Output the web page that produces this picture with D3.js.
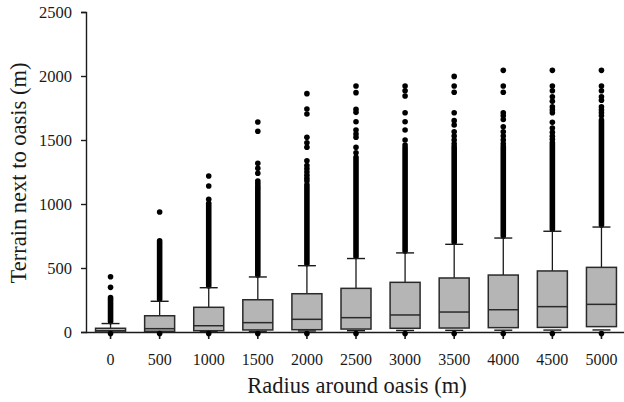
<!doctype html>
<meta charset="utf-8">
<title>Terrain boxplot</title>
<script src="https://cdn.jsdelivr.net/npm/d3@7/dist/d3.min.js"></script>
<style>
  body { margin: 0; background: #fff; }
</style>

<div id="chart"></div>

<script>
  // radius categories (m)
  const radius = ['0', '500', '1000', '1500', '2000', '2500', '3000', '3500', '4000', '4500', '5000']

  // box statistics (m)
  const lowWhisker = [0, 2, 4, 6, 8, 10, 12, 13, 14, 15, 16]
  const q1 = [0, 5, 10, 16, 18, 23, 29, 31, 34, 36, 42]
  const median = [10, 26, 49, 73, 99, 112, 133, 156, 174, 198, 216]
  const q3 = [29, 127, 193, 252, 299, 341, 388, 422, 445, 477, 505]
  const highWhisker = [66, 240, 346, 430, 518, 574, 618, 685, 734, 787, 820]

  // the outliers above the whisker form a solid column up to this value
  const denseTop = [255, 713, 1005, 1109, 1150, 1365, 1440, 1448, 1448, 1480, 1656]

  // separate outliers above the solid column
  const sparse = [
    [432, 349, 270],
    [937],
    [1219, 1141, 1037],
    [1641, 1568, 1318, 1279, 1240, 1180, 1160, 1140, 1125],
    [1862, 1742, 1703, 1521, 1479, 1443, 1338, 1300, 1275, 1250, 1225, 1200, 1180],
    [1922, 1870, 1740, 1716, 1643, 1578, 1547, 1521, 1443, 1400],
    [1922, 1885, 1844, 1713, 1643, 1578, 1500, 1461],
    [1997, 1922, 1873, 1713, 1651, 1617, 1565, 1531, 1500, 1470],
    [2044, 1922, 1873, 1713, 1690, 1660, 1604, 1565, 1531, 1500, 1470],
    [2044, 1922, 1885, 1838, 1802, 1760, 1735, 1713, 1638, 1594, 1560, 1530, 1505],
    [2044, 1922, 1885, 1838, 1810, 1760, 1735, 1713, 1690]
  ]

  // low outliers just under zero
  const lowOut = [-12, -12, -12, -12, -12, -12, -12, -12, -12, -12, -12]

  const yTicks = [0, 500, 1000, 1500, 2000, 2500]

  const W = 624, H = 402
  const plotLeft = 86, plotRight = 626, plotTop = 12, plotBottom = 332
  const serif = "'Liberation Serif', 'Times New Roman', 'DejaVu Serif', serif"
  const ink = '#1a1a1a'

  const svg = d3.select('#chart')
    .append('svg')
    .attr('width', W)
    .attr('height', H)
    .attr('font-family', serif)

  const x = d3.scaleBand().domain(radius).range([plotLeft, plotRight])
  const y = d3.scaleLinear().domain([0, 2500]).range([plotBottom, plotTop])

  const boxW = 30, capW = 18

  const rows = radius.map((r, i) => ({
    r, lo: lowWhisker[i], q1: q1[i], med: median[i], q3: q3[i], hi: highWhisker[i],
    dense: denseTop[i], pts: sparse[i], low: lowOut[i]
  }))
  const cx = d => x(d.r) + x.bandwidth() / 2

  // axes
  const yAxis = svg.append('g')
    .attr('transform', `translate(${plotLeft},0)`)
    .call(d3.axisLeft(y).tickValues(yTicks).tickFormat(d3.format('d')).tickSize(5).tickPadding(9))
    .attr('font-family', serif)
    .attr('font-size', 16.5)
  yAxis.selectAll('path, line').attr('stroke', ink).attr('stroke-width', 1.4)
  yAxis.selectAll('text').attr('fill', ink)

  const xAxis = svg.append('g')
    .attr('transform', `translate(0,${plotBottom})`)
    .call(d3.axisBottom(x).tickSize(7).tickSizeOuter(0).tickPadding(15))
    .attr('font-family', serif)
    .attr('font-size', 16)
  xAxis.select('.domain').attr('d', `M${plotLeft},0.5H${W}`)
  xAxis.selectAll('path, line').attr('stroke', ink).attr('stroke-width', 1.6)
  xAxis.selectAll('text').attr('fill', ink)

  const g = svg.append('g')
  const box = g.selectAll('g.box').data(rows).enter().append('g').attr('class', 'box')

  // upper whisker and the solid column of outliers
  box.append('line')
    .attr('x1', cx).attr('x2', cx)
    .attr('y1', d => y(d.q3)).attr('y2', d => y(d.hi))
    .attr('stroke', ink).attr('stroke-width', 1.3)
  box.append('line')
    .attr('x1', cx).attr('x2', cx)
    .attr('y1', d => y(d.hi) - 2).attr('y2', d => y(d.dense))
    .attr('stroke', '#000').attr('stroke-width', 5.6).attr('stroke-linecap', 'round')
  box.selectAll('circle.out')
    .data(d => d.pts.map(v => ({ d, v })))
    .enter().append('circle')
    .attr('class', 'out')
    .attr('cx', p => cx(p.d)).attr('cy', p => y(p.v)).attr('r', 2.8)
    .attr('fill', '#000')

  // caps
  box.append('line')
    .attr('x1', d => cx(d) - capW / 2).attr('x2', d => cx(d) + capW / 2)
    .attr('y1', d => y(d.hi)).attr('y2', d => y(d.hi))
    .attr('stroke', ink).attr('stroke-width', 1.4)
  box.append('line')
    .attr('x1', d => cx(d) - capW / 2).attr('x2', d => cx(d) + capW / 2)
    .attr('y1', d => y(d.lo)).attr('y2', d => y(d.lo))
    .attr('stroke', ink).attr('stroke-width', 1.4)

  // box and median
  box.append('rect')
    .attr('x', d => cx(d) - boxW / 2).attr('width', boxW)
    .attr('y', d => y(d.q3)).attr('height', d => Math.max(1.5, y(d.q1) - y(d.q3)))
    .attr('fill', '#b5b5b5').attr('stroke', '#2a2a2a').attr('stroke-width', 1.5)
  box.append('line')
    .attr('x1', d => cx(d) - boxW / 2).attr('x2', d => cx(d) + boxW / 2)
    .attr('y1', d => y(d.med)).attr('y2', d => y(d.med))
    .attr('stroke', '#2a2a2a').attr('stroke-width', 1.5)

  // low outliers sitting on the axis
  box.append('circle')
    .attr('cx', cx).attr('cy', d => y(d.low)).attr('r', 2.8)
    .attr('fill', '#000')

  // titles
  svg.append('text')
    .attr('x', 357).attr('y', 393)
    .attr('text-anchor', 'middle')
    .attr('font-size', 22.5)
    .attr('fill', ink)
    .text('Radius around oasis (m)')

  svg.append('text')
    .attr('transform', 'translate(26,173) rotate(-90)')
    .attr('text-anchor', 'middle')
    .attr('font-size', 22.5)
    .attr('fill', ink)
    .text('Terrain next to oasis (m)')
</script>
